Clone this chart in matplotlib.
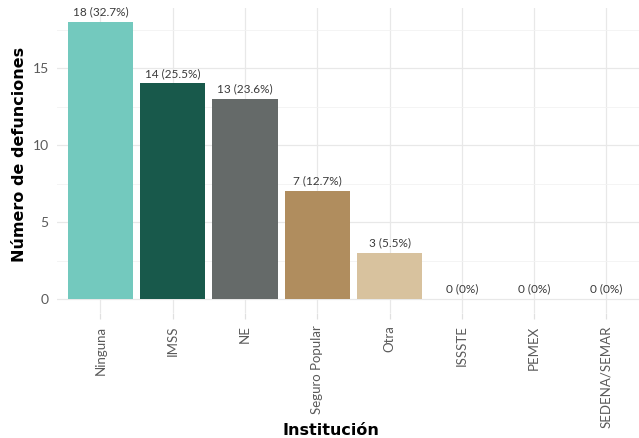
import numpy as np
import matplotlib.pyplot as plt

categorias = ["Ninguna", "IMSS", "NE", "Seguro Popular", "Otra", "ISSSTE", "PEMEX", "SEDENA/SEMAR"]
defunciones = [18, 14, 13, 7, 3, 0, 0, 0]
etiquetas = ["18 (32.7%)", "14 (25.5%)", "13 (23.6%)", "7 (12.7%)", "3 (5.5%)", "0 (0%)", "0 (0%)", "0 (0%)"]
colores = ["#73C9BE", "#18594B", "#656A69", "#B08D5E", "#D8C29E", "#CCCCCC", "#CCCCCC", "#CCCCCC"]

plt.rcParams['font.family'] = ['Lato', 'DejaVu Sans']

fig = plt.figure(figsize=(6.39, 4.38), dpi=100)
ax = fig.add_axes([57 / 639, 1 - 313 / 438, 582 / 639, 305 / 438])

x = np.arange(len(categorias))
ax.bar(x, defunciones, width=0.9, color=colores, zorder=2)

for xi, v, lab in zip(x, defunciones, etiquetas):
    ax.text(xi, v + 0.3, lab, ha="center", va="bottom", fontsize=8.5,
            color="#3a3a3a", zorder=3)

ax.set_xlim(-0.6, 7.45)
ax.set_ylim(-0.9, 18.9)
ax.set_yticks([0, 5, 10, 15])
ax.set_yticks([2.5, 7.5, 12.5, 17.5], minor=True)
ax.set_xticks(x)
ax.set_xticklabels(categorias, rotation=90, fontsize=9.5, color="#5a5a5a")
ax.tick_params(axis="y", labelsize=10, labelcolor="#5a5a5a", length=0, pad=6)
ax.tick_params(axis="y", which="minor", length=0)
ax.tick_params(axis="x", length=4, color="#E0E0E0", width=0.9, pad=5)

ax.grid(True, which="major", color="#E8E8E8", linewidth=0.9, zorder=0)
ax.grid(True, which="minor", axis="y", color="#F2F2F2", linewidth=0.6, zorder=0)
for s in ax.spines.values():
    s.set_visible(False)

ax.set_xlabel("Institución", fontsize=11.5, fontweight="bold", family="DejaVu Sans", va="center")
ax.set_ylabel("Número de defunciones", fontsize=11.5, fontweight="bold", family="DejaVu Sans", va="center")
ax.xaxis.set_label_coords(0.47, -0.385)
ax.yaxis.set_label_coords(-0.064, 0.52)

fig.savefig("out.png", dpi=100)
